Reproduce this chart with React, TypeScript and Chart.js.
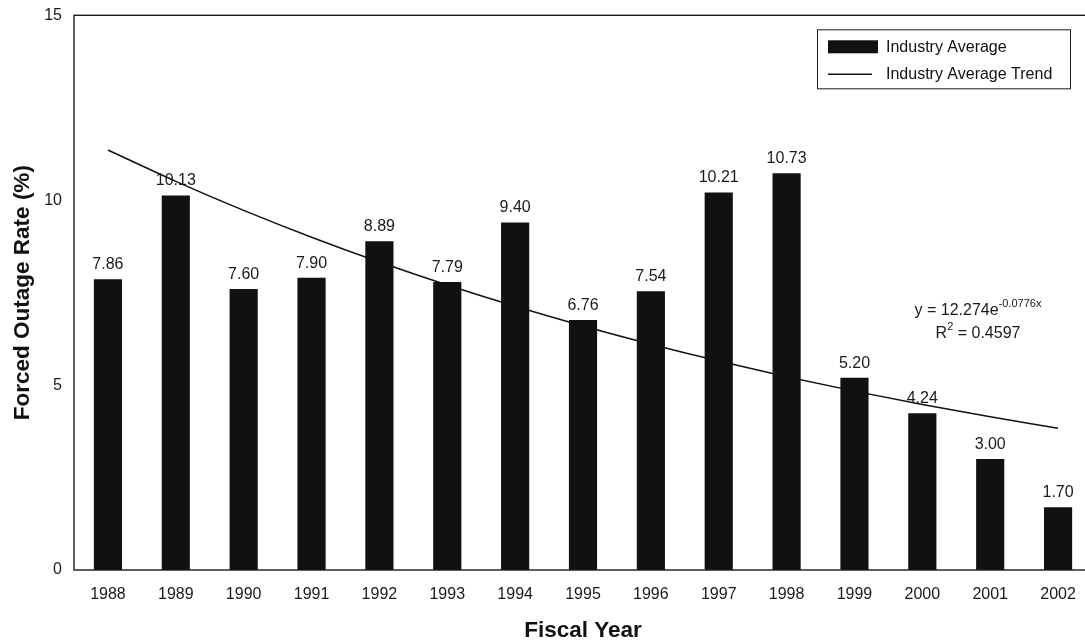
import React, { useEffect, useRef } from "react";
import { Chart, registerables } from "chart.js";

Chart.register(...registerables);

const years = ["1988", "1989", "1990", "1991", "1992", "1993", "1994", "1995", "1996", "1997", "1998", "1999", "2000", "2001", "2002"];
const industryAverage = [7.86, 10.13, 7.6, 7.9, 8.89, 7.79, 9.4, 6.76, 7.54, 10.21, 10.73, 5.2, 4.24, 3.0, 1.7];
const industryTrend = [11.358, 10.51, 9.725, 8.999, 8.327, 7.705, 7.13, 6.598, 6.105, 5.649, 5.228, 4.837, 4.476, 4.142, 3.833];
const yTickValues = [0, 5, 10, 15];
const equationMain = "y = 12.274e";
const equationSup = "-0.0776x";
const rSquaredText = " = 0.4597";

const FONT = "'Liberation Sans', Arial, Helvetica, sans-serif";

const boxPlugin = {
  id: "plotBox",
  afterDraw(chart: any) {
    const { ctx, chartArea } = chart;
    ctx.save();
    ctx.strokeStyle = "#1a1a1a";
    ctx.lineWidth = 1.4;
    ctx.strokeRect(chartArea.left, chartArea.top, chartArea.right - chartArea.left, chartArea.bottom - chartArea.top);
    ctx.restore();
  },
};

const labelPlugin = {
  id: "barLabels",
  afterDatasetDraw(chart: any, args: any) {
    if (args.index !== 0) return;
    const { ctx } = chart;
    const meta = chart.getDatasetMeta(0);
    ctx.save();
    ctx.font = `16px ${FONT}`;
    ctx.fillStyle = "#1a1a1a";
    ctx.textAlign = "center";
    ctx.textBaseline = "alphabetic";
    meta.data.forEach((el: any, i: number) => {
      ctx.fillText(industryAverage[i].toFixed(2), el.x, el.y - 10);
    });
    ctx.restore();
  },
};

const legendPlugin = {
  id: "customLegend",
  afterDraw(chart: any) {
    const { ctx, chartArea } = chart;
    const ds = chart.data.datasets;
    const x0 = chartArea.right - 275;
    const y0 = chartArea.top + 14;
    ctx.save();
    ctx.fillStyle = "#ffffff";
    ctx.fillRect(x0, y0, 253, 59);
    ctx.strokeStyle = "#1a1a1a";
    ctx.lineWidth = 1;
    ctx.strokeRect(x0 + 0.5, y0 + 0.5, 253, 59);
    ctx.fillStyle = "#111111";
    ctx.fillRect(x0 + 11, y0 + 11, 50, 13);
    ctx.strokeStyle = "#111111";
    ctx.lineWidth = 1.5;
    ctx.beginPath();
    ctx.moveTo(x0 + 11, y0 + 45);
    ctx.lineTo(x0 + 55, y0 + 45);
    ctx.stroke();
    ctx.font = `16px ${FONT}`;
    ctx.fillStyle = "#111111";
    ctx.textAlign = "left";
    ctx.textBaseline = "middle";
    ctx.fillText(ds[0].label, x0 + 69, y0 + 18);
    ctx.fillText(ds[1].label, x0 + 69, y0 + 45);
    ctx.restore();
  },
};

const equationPlugin = {
  id: "equation",
  afterDraw(chart: any) {
    const { ctx, chartArea } = chart;
    const cx = chartArea.right - 114;
    const base1 = 315;
    const base2 = 338;
    ctx.save();
    ctx.fillStyle = "#1a1a1a";
    ctx.textAlign = "left";
    ctx.textBaseline = "alphabetic";
    ctx.font = `16px ${FONT}`;
    const w1 = ctx.measureText(equationMain).width;
    ctx.font = `11px ${FONT}`;
    const w2 = ctx.measureText(equationSup).width;
    let sx = cx - (w1 + w2) / 2;
    ctx.font = `16px ${FONT}`;
    ctx.fillText(equationMain, sx, base1);
    ctx.font = `11px ${FONT}`;
    ctx.fillText(equationSup, sx + w1, base1 - 8);
    ctx.font = `16px ${FONT}`;
    const wr = ctx.measureText("R").width;
    const w3 = ctx.measureText(rSquaredText).width;
    ctx.font = `11px ${FONT}`;
    const ws = ctx.measureText("2").width;
    sx = cx - (wr + ws + w3) / 2;
    ctx.font = `16px ${FONT}`;
    ctx.fillText("R", sx, base2);
    ctx.font = `11px ${FONT}`;
    ctx.fillText("2", sx + wr, base2 - 8);
    ctx.font = `16px ${FONT}`;
    ctx.fillText(rSquaredText, sx + wr + ws, base2);
    ctx.restore();
  },
};

export default function App() {
  const canvasRef = useRef<HTMLCanvasElement | null>(null);

  useEffect(() => {
    if (!canvasRef.current) return;
    const chart = new Chart(canvasRef.current, {
      type: "bar",
      data: {
        labels: years,
        datasets: [
          {
            type: "bar",
            label: "Industry Average",
            data: industryAverage,
            backgroundColor: "#111111",
            borderWidth: 0,
            categoryPercentage: 1,
            barPercentage: 0.415,
            order: 1,
          } as any,
          {
            type: "line",
            label: "Industry Average Trend",
            data: industryTrend,
            borderColor: "#111111",
            borderWidth: 1.5,
            pointRadius: 0,
            fill: false,
            cubicInterpolationMode: "monotone",
            order: 0,
          } as any,
        ],
      },
      options: {
        animation: false,
        responsive: false,
        devicePixelRatio: 1,
        layout: { padding: { left: 0, top: 15.3, right: 8, bottom: 0 } },
        plugins: {
          legend: { display: false },
          tooltip: { enabled: false },
        },
        scales: {
          x: {
            grid: { display: false, drawTicks: false },
            border: { display: false },
            ticks: {
              color: "#1a1a1a",
              font: { family: FONT, size: 16 },
              padding: 15,
              maxRotation: 0,
            },
            title: {
              display: true,
              text: "Fiscal Year",
              color: "#111111",
              font: { family: FONT, size: 22.5, weight: "bold" },
              padding: { top: 0, bottom: 0 },
            },
            afterFit(scale: any) {
              scale.height = 74;
            },
          },
          y: {
            min: 0,
            max: 15,
            grid: { display: false, drawTicks: false },
            border: { display: false },
            afterBuildTicks(scale: any) {
              scale.ticks = yTickValues.map((v) => ({ value: v }));
            },
            ticks: {
              color: "#1a1a1a",
              font: { family: FONT, size: 16 },
              padding: 12,
            },
            title: {
              display: true,
              text: "Forced Outage Rate (%)",
              color: "#111111",
              font: { family: FONT, size: 22.5, weight: "bold" },
              padding: { top: 9.5, bottom: 0 },
            },
            afterFit(scale: any) {
              scale.width = 74;
              scale.paddingTop = 0;
              scale.paddingBottom = 0;
            },
          },
        },
      },
      plugins: [labelPlugin, boxPlugin, legendPlugin, equationPlugin],
    });
    return () => chart.destroy();
  }, []);

  return (
    <div
      style={{
        position: "fixed",
        left: 0,
        top: 0,
        width: 1085,
        height: 644,
        overflow: "hidden",
        background: "#ffffff",
      }}
    >
      <canvas ref={canvasRef} width={1100} height={644} style={{ display: "block", width: 1100, height: 644 }} />
    </div>
  );
}
